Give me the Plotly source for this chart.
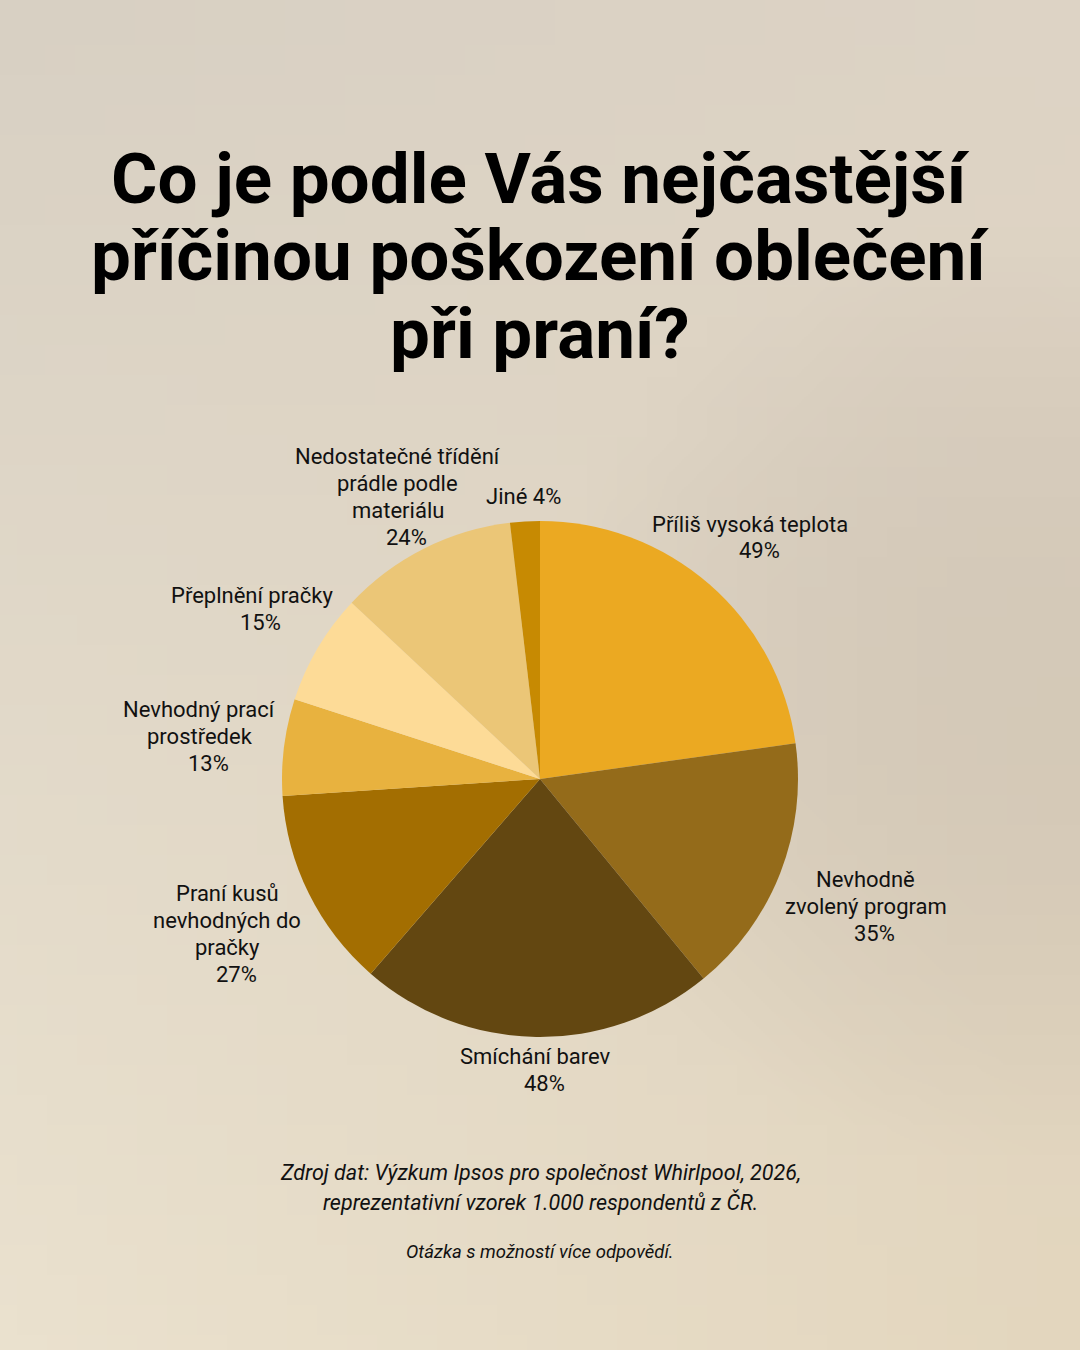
import base64, math, struct, zlib
import plotly.graph_objects as go

# ---------------- data ----------------
labels = [
    "Příliš vysoká teplota",
    "Nevhodně<br>zvolený program",
    "Smíchání barev",
    "Praní kusů<br>nevhodných do<br>pračky",
    "Nevhodný prací<br>prostředek",
    "Přeplnění pračky",
    "Nedostatečné třídění<br>prádle podle<br>materiálu",
    "Jiné",
]
values = [49, 35, 48, 27, 13, 15, 24, 4]
colors = ["#EBA922", "#946B1A", "#634711", "#A36E01", "#E8B23F", "#FDDB97", "#EBC677", "#C78A02"]

title_lines = ["Co je podle Vás nejčastější", "příčinou poškození oblečení", "při praní?"]
source_lines = ["Zdroj dat: Výzkum Ipsos pro společnost Whirlpool, 2026,",
                "reprezentativní vzorek 1.000 respondentů z ČR."]
note_text = "Otázka s možností více odpovědí."

# ---------------- layout settings ----------------
W, H = 1080, 1350
cx, cy, r = 540, 779, 258                         # pie centre / radius in px
label_radius = [320, 350, 291, 349, 343, 335, 316, 283]   # distance of label centre from pie centre
line_gap = 26.8                                   # px between label lines
pct_shift = 9                                     # px the value line sits right of the label centre


# ---------------- background gradient image ----------------
def make_bg(w=36, h=45):
    tl, tr = (216, 208, 195), (221, 211, 197)
    bl, br = (234, 225, 206), (227, 214, 190)
    rows = []
    for j in range(h):
        v = j / (h - 1)
        row = bytearray([0])
        for i in range(w):
            u = i / (w - 1)
            c = []
            for k in range(3):
                top = tl[k] * (1 - u) + tr[k] * u
                bot = bl[k] * (1 - u) + br[k] * u
                val = top * (1 - v) + bot * v
                dx, dy = (u - 0.95) / 0.45, (v - 0.52) / 0.35
                d = max(0.0, 1 - (dx * dx + dy * dy))
                val -= d * (12 if k < 2 else 10)
                c.append(int(max(0, min(255, round(val)))))
            row.extend(c)
        rows.append(bytes(row))
    raw = b"".join(rows)

    def chunk(t, d):
        return struct.pack(">I", len(d)) + t + d + struct.pack(">I", zlib.crc32(t + d) & 0xffffffff)

    png = b"\x89PNG\r\n\x1a\n" + chunk(b"IHDR", struct.pack(">IIBBBBB", w, h, 8, 2, 0, 0, 0)) \
        + chunk(b"IDAT", zlib.compress(raw, 9)) + chunk(b"IEND", b"")
    return "data:image/png;base64," + base64.b64encode(png).decode()


# ---------------- figure ----------------
fig = go.Figure(go.Pie(
    labels=[l.replace("<br>", " ") for l in labels],
    values=values,
    textinfo="none",
    marker=dict(colors=colors, line=dict(width=0)),
    sort=False,
    direction="clockwise",
    rotation=0,
    showlegend=False,
    hoverinfo="label+value",
    domain=dict(x=[(cx - r) / W, (cx + r) / W], y=[1 - (cy + r) / H, 1 - (cy - r) / H]),
))

annotations = []
label_font = dict(family="Roboto", size=22, color="#111111")

# slice labels at each slice's mid-angle (derived from the values)
total = sum(values)
cum = 0
for lab, val, dist in zip(labels, values, label_radius):
    mid = (cum + val / 2) / total * 2 * math.pi
    cum += val
    px = cx + dist * math.sin(mid)
    py = cy - dist * math.cos(mid)
    if len(lab) < 6:
        lines = [(f"{lab} {val}%", 0)]
    else:
        lines = [(t, 0) for t in lab.split("<br>")] + [(f"{val}%", pct_shift)]
    n = len(lines)
    for i, (t, sx) in enumerate(lines):
        ly = py + (i - (n - 1) / 2) * line_gap
        annotations.append(dict(text=t, x=(px + sx) / W, y=1 - ly / H,
                                xref="paper", yref="paper", xanchor="center", yanchor="middle",
                                showarrow=False, font=label_font))

for t, y in zip(title_lines, [178, 256, 333]):
    annotations.append(dict(text=f"<b>{t}</b>", x=0.5, y=1 - y / H, xref="paper", yref="paper",
                            xanchor="center", yanchor="middle", showarrow=False,
                            font=dict(family="Roboto", size=71, color="#000000")))
for t, y in zip(source_lines, [1172, 1202]):
    annotations.append(dict(text=f"<i>{t}</i>", x=0.5, y=1 - y / H, xref="paper", yref="paper",
                            xanchor="center", yanchor="middle", showarrow=False,
                            font=dict(family="Roboto", size=21.5, color="#111111")))
annotations.append(dict(text=f"<i>{note_text}</i>", x=0.5, y=1 - 1252 / H, xref="paper", yref="paper",
                        xanchor="center", yanchor="middle", showarrow=False,
                        font=dict(family="Roboto", size=18.5, color="#111111")))

fig.update_layout(
    width=W, height=H,
    margin=dict(l=0, r=0, t=0, b=0),
    paper_bgcolor="#DDD3C3",
    plot_bgcolor="rgba(0,0,0,0)",
    annotations=annotations,
    images=[dict(source=make_bg(), xref="paper", yref="paper", x=0, y=1, sizex=1, sizey=1,
                 xanchor="left", yanchor="top", sizing="stretch", layer="below")],
    font=dict(family="Roboto"),
)

fig.write_html("out.html", config={"displayModeBar": False})
